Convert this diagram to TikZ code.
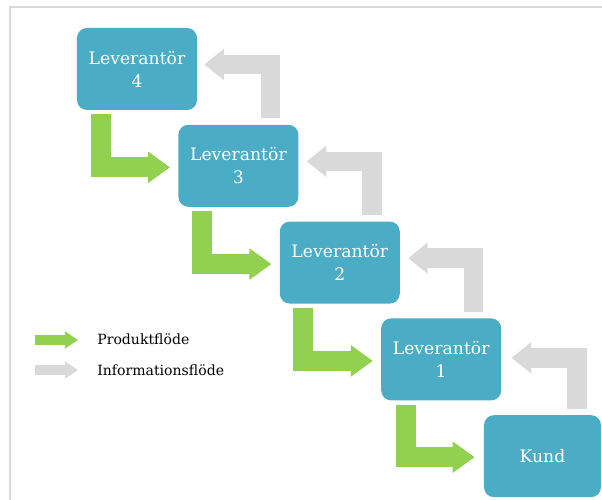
\documentclass[tikz,border=0pt]{standalone}
\usepackage{fontspec}
\setmainfont{DejaVu Serif}
\usetikzlibrary{arrows.meta,calc}

\definecolor{boxblue}{HTML}{4BACC6}
\definecolor{prodgreen}{HTML}{92D050}
\definecolor{infogray}{HTML}{D9D9D9}

\begin{document}
\begin{tikzpicture}[x=0.2mm, y=0.2mm,
    lev/.style={fill=boxblue, draw=none, rounded corners=2mm, align=center,
                text=white, font=\fontsize{9.8}{13}\selectfont,
                minimum width=24mm, minimum height=16.4mm, inner sep=2pt},
    prod/.style={draw=prodgreen, line width=4mm,
                 -{Triangle[length=4.4mm, width=6mm]}},
    info/.style={draw=infogray, line width=3.9mm,
                 -{Triangle[length=3.9mm, width=6mm]}},
    prodleg/.style={draw=prodgreen, line width=2mm,
                    -{Triangle[length=2.6mm, width=3.3mm]}},
    infoleg/.style={draw=infogray, line width=2mm,
                    -{Triangle[length=2.6mm, width=3.3mm]}},
    leg/.style={anchor=west, inner sep=0pt, font=\fontsize{8}{10}\selectfont}
  ]
  \useasboundingbox (0,0) rectangle (602,500);
  \draw[infogray, line width=0.4mm] (10,0) |- (602,493);

  % boxes
  \node[lev] (lev4) at (137,431) {Leverant\"or\\4};
  \node[lev] (lev3) at (238.4,334.2) {Leverant\"or\\3};
  \node[lev] (lev2) at (339.8,237.4) {Leverant\"or\\2};
  \node[lev] (lev1) at (441.2,140.6) {Leverant\"or\\1};
  \node[lev, minimum width=23.4mm] (kund) at (542.5,43.8) {Kund};

  % produktflöde
  \coordinate (p4) at ($(lev4.south west)+(24,-4)$);
  \coordinate (p3) at ($(lev3.south west)+(24,-4)$);
  \coordinate (p2) at ($(lev2.south west)+(24,-4)$);
  \coordinate (p1) at ($(lev1.south west)+(25,-4)$);
  \draw[prod] (p4) |- ($(lev3.west)+(-8,-1.5)$);
  \draw[prod] (p3) |- ($(lev2.west)+(-8,-1.5)$);
  \draw[prod] (p2) |- ($(lev1.west)+(-8,-1.5)$);
  \draw[prod] (p1) |- ($(kund.west)+(-9,-1)$);

  % informationsflöde
  \coordinate (i3) at ($(lev3.north west)+(92.5,6)$);
  \coordinate (i2) at ($(lev2.north west)+(92.5,6)$);
  \coordinate (i1) at ($(lev1.north west)+(92.5,6)$);
  \coordinate (ik) at ($(kund.north west)+(93.5,6)$);
  \draw[info] (i3) |- ($(lev4.east)+(7,4.5)$);
  \draw[info] (i2) |- ($(lev3.east)+(8,4.5)$);
  \draw[info] (i1) |- ($(lev2.east)+(8,4.5)$);
  \draw[info] (ik) |- ($(lev1.east)+(10,1.5)$);

  % legend
  \node[leg] (tprod) at (97,161) {Produktfl\"ode};
  \node[leg] (tinfo) at (97,130) {Informationsfl\"ode};
  \coordinate (lp) at ($(tprod.west)+(-62,-1)$);
  \coordinate (lpe) at ($(tprod.west)+(-19,-1)$);
  \coordinate (li) at ($(tinfo.west)+(-62,0)$);
  \coordinate (lie) at ($(tinfo.west)+(-19,0)$);
  \draw[prodleg] (lp) -- (lpe);
  \draw[infoleg] (li) -- (lie);
\end{tikzpicture}
\end{document}
